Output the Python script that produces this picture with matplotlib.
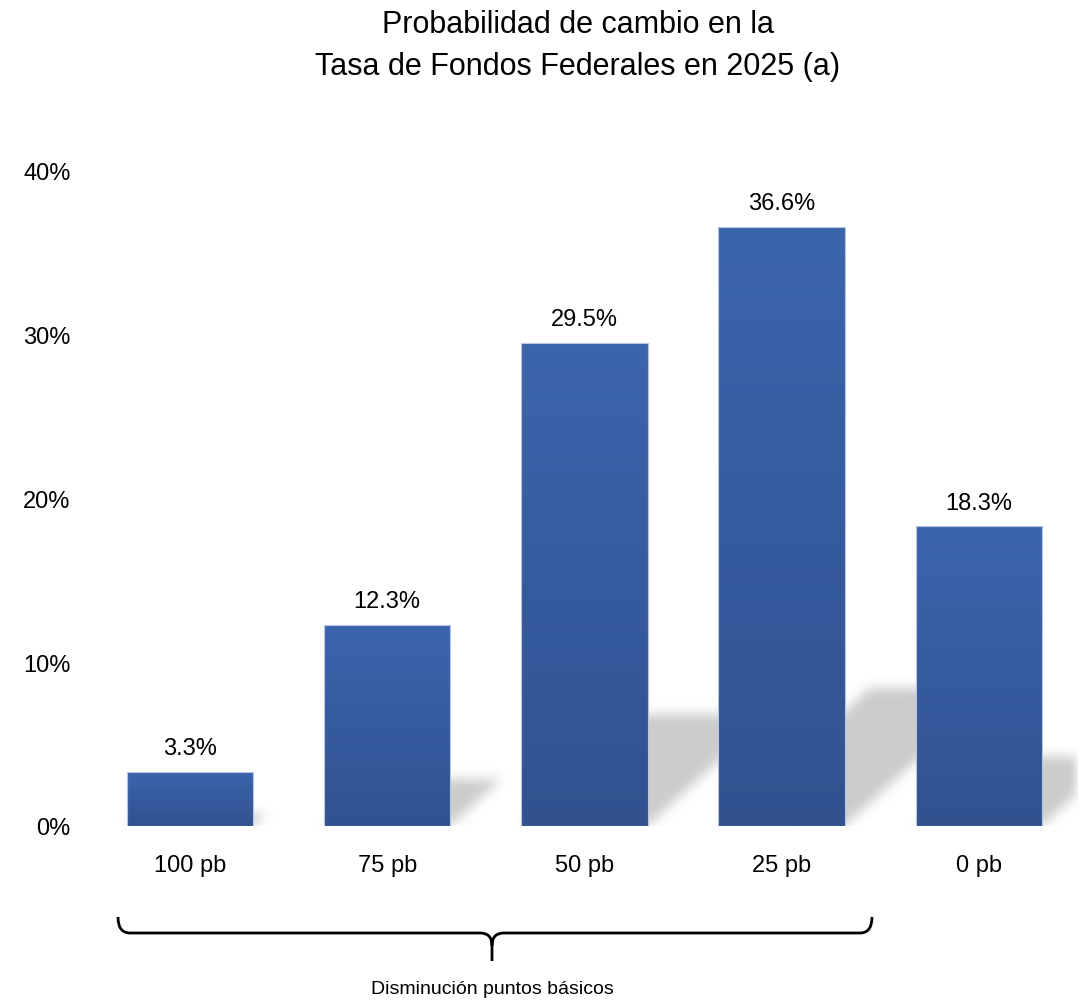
import numpy as np
import matplotlib
matplotlib.use("Agg")
import matplotlib.pyplot as plt
from matplotlib import font_manager
from matplotlib.path import Path
from matplotlib.patches import PathPatch

# datos
categorias = ["100 pb", "75 pb", "50 pb", "25 pb", "0 pb"]
probabilidad = [3.3, 12.3, 29.5, 36.6, 18.3]
etiquetas = ["3.3%", "12.3%", "29.5%", "36.6%", "18.3%"]
ticks_y = [0, 10, 20, 30, 40]
ticks_y_txt = ["0%", "10%", "20%", "30%", "40%"]
titulo = "Probabilidad de cambio en la\nTasa de Fondos Federales en 2025 (a)"
nota = "Disminución puntos básicos"

nombres = {f.name for f in font_manager.fontManager.ttflist}
fuente = "Liberation Sans Narrow" if "Liberation Sans Narrow" in nombres else "Liberation Sans"
plt.rcParams["font.family"] = [fuente, "DejaVu Sans"]

W, H = 1082, 1004
fig = plt.figure(figsize=(W / 100, H / 100), dpi=100)
ax_l, ax_b = 91.4 / W, (H - 827) / H
ax_w, ax_h = 986 / W, 655 / H
ax = fig.add_axes([ax_l, ax_b, ax_w, ax_h])

x = np.arange(len(categorias))
ancho = 0.64
xmin, xmax, ymin, ymax = -0.5, 4.5, 0, 40

barras = ax.bar(x, probabilidad, width=ancho, color="none",
                edgecolor="#b9c6de", linewidth=0.8, zorder=3)

# degradado en cada barra
grad = np.linspace(0, 1, 256).reshape(-1, 1)
c_top = np.array([0x3B, 0x65, 0xAD]) / 255
c_bot = np.array([0x31, 0x52, 0x8F]) / 255
img = c_top[None, None, :] * (1 - grad[:, :, None]) + c_bot[None, None, :] * grad[:, :, None]
for b in barras:
    x0, w, h = b.get_x(), b.get_width(), b.get_height()
    im = ax.imshow(img, extent=[x0, x0 + w, 0, h], aspect="auto",
                   origin="upper", zorder=2, interpolation="bilinear")
    im.set_clip_path(b)

# sombras en perspectiva (difuminadas)
px_x = 986 / (xmax - xmin)
px_y = 655 / (ymax - ymin)
escala, inclin = 0.23, 1.1
ny, nx = 700, 1000
ys = np.linspace(-2, 40, ny)
xs = np.linspace(xmin, xmax, nx)
XX, YY = np.meshgrid(xs, ys)
mask = np.zeros_like(XX)
for b in barras:
    x0, w, h = b.get_x(), b.get_width(), b.get_height()
    hs = escala * h
    desp = YY * inclin * px_y / px_x
    m = (YY >= 0) & (YY <= hs) & (XX >= x0 + desp) & (XX <= x0 + w + desp)
    mask[m] = 1.0
k = np.ones(11) / 11
for _ in range(3):
    mask = np.apply_along_axis(lambda r: np.convolve(r, k, mode="same"), 1, mask)
    mask = np.apply_along_axis(lambda c: np.convolve(c, k, mode="same"), 0, mask)
sombra = np.zeros((ny, nx, 4))
sombra[..., :3] = 0.8
sombra[..., 3] = mask
ax.imshow(sombra, extent=[xmin, xmax, -2, 40], origin="lower", aspect="auto",
          zorder=1, interpolation="bilinear")

ax.set_xlim(xmin, xmax)
ax.set_ylim(ymin, ymax)
for s in ax.spines.values():
    s.set_visible(False)
ax.set_xticks(x)
ax.set_xticklabels(categorias, fontsize=17)
ax.set_yticks(ticks_y)
ax.set_yticklabels(ticks_y_txt, fontsize=17)
ax.tick_params(axis="x", length=0, pad=20)
ax.tick_params(axis="y", length=0, pad=15)

for b, t in zip(barras, etiquetas):
    ax.annotate(t, (b.get_x() + b.get_width() / 2, b.get_height()),
                xytext=(0, 17), textcoords="offset points",
                ha="center", va="center", fontsize=17)

fig.text(578 / W, 1 - 46 / H, titulo, ha="center", va="center",
         fontsize=22, linespacing=1.5)

# llave bajo las barras de disminución
def dx(p):
    return (p - 91.4) / px_x + xmin

def dy(p):
    return -(p - 827) / px_y

xl, xr, xm = dx(118), dx(872), dx(492)
y_top, y_line, y_tip = dy(918), dy(934), dy(962)
r = 12 / px_x
verts = [(xl, y_top), (xl, y_line), (xl + r, y_line),
         (xm - r, y_line), (xm, y_line), (xm, y_line - (y_line - y_tip) * 0.45),
         (xm, y_tip),
         (xm, y_line - (y_line - y_tip) * 0.45), (xm, y_line), (xm + r, y_line),
         (xr - r, y_line), (xr, y_line), (xr, y_top)]
codes = [Path.MOVETO, Path.CURVE3, Path.CURVE3,
         Path.LINETO, Path.CURVE3, Path.CURVE3,
         Path.LINETO,
         Path.MOVETO, Path.CURVE3, Path.CURVE3,
         Path.LINETO, Path.CURVE3, Path.CURVE3]
ax.add_patch(PathPatch(Path(verts, codes), fc="none", ec="black", lw=2,
                       clip_on=False))
ax.text(xm, dy(990), nota, ha="center", va="center", fontsize=14, clip_on=False)

fig.savefig("out.png", dpi=100, facecolor="white")
